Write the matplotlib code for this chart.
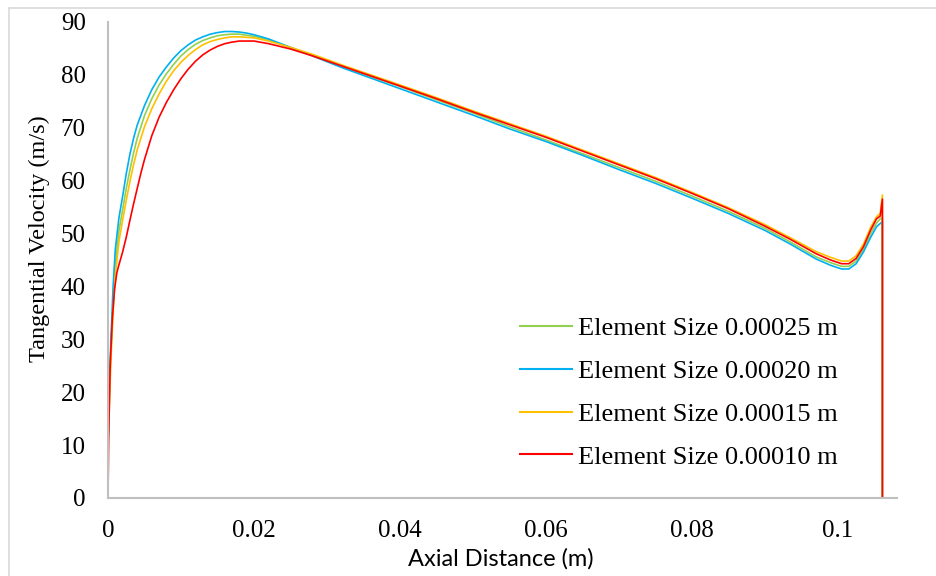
import matplotlib
matplotlib.use("Agg")
import matplotlib.pyplot as plt
from matplotlib.lines import Line2D

# Axial distance (m) and tangential velocity (m/s) for each mesh size
x_025 = [0, 0.0002, 0.0004, 0.0007, 0.001, 0.0015, 0.002, 0.0025, 0.003, 0.0035, 0.004,
         0.005, 0.006, 0.007, 0.008, 0.009, 0.010, 0.011, 0.012, 0.013, 0.014, 0.015,
         0.016, 0.017, 0.018, 0.019, 0.020, 0.022, 0.025, 0.028, 0.032,
         0.036, 0.040, 0.045, 0.050, 0.055, 0.060, 0.065, 0.070, 0.075, 0.080, 0.085,
         0.090, 0.0935, 0.097, 0.099, 0.1005, 0.1015, 0.1025, 0.1035, 0.1045, 0.1053,
         0.1058, 0.1061, 0.1061]
v_025 = [11, 20, 28, 37, 44, 50.5, 54.5, 58.5, 62, 65.2, 68,
         72.3, 75.5, 78.1, 80.2, 82.0, 83.6, 84.8, 85.8, 86.5, 87.0, 87.4,
         87.6, 87.7, 87.7, 87.5, 87.3, 86.6, 85.2, 83.7, 81.6,
         79.7, 77.8, 75.3, 72.8, 70.2, 67.7, 65.1, 62.5, 59.9, 57.1, 54.2,
         51.0, 48.4, 45.6, 44.5, 43.8, 43.8, 44.8, 47.0, 50.0, 52.0,
         52.8, 53.0, 0]

x_020 = x_025
v_020 = [9, 22, 30, 40, 47, 53, 57, 61.3, 65, 68, 70.5,
         74.2, 77.2, 79.6, 81.5, 83.2, 84.6, 85.7, 86.6, 87.2, 87.7, 88.0,
         88.2, 88.2, 88.1, 87.9, 87.6, 86.8, 85.2, 83.6, 81.4,
         79.4, 77.4, 74.9, 72.4, 69.8, 67.4, 64.8, 62.1, 59.5, 56.7, 53.8,
         50.6, 48.0, 45.2, 44.0, 43.3, 43.3, 44.3, 46.5, 49.3, 51.3,
         51.9, 52.2, 0]

x_015 = x_025
v_015 = [10, 18, 26, 35, 42, 48.5, 52.5, 56.3, 59.8, 63, 65.8,
         70.2, 73.6, 76.4, 78.8, 80.8, 82.4, 83.7, 84.8, 85.7, 86.3, 86.7,
         87.0, 87.2, 87.2, 87.1, 87.0, 86.4, 85.2, 83.9, 81.9,
         80.0, 78.1, 75.7, 73.2, 70.8, 68.4, 65.8, 63.2, 60.6, 57.8, 54.9,
         51.7, 49.2, 46.6, 45.5, 44.8, 44.8, 45.8, 48.0, 51.2, 53.2,
         53.8, 57.3, 0]

x_010 = [0, 0.0001, 0.0003, 0.0006, 0.0009, 0.0012, 0.0014, 0.002, 0.0025, 0.003, 0.0035,
         0.004, 0.0045, 0.005, 0.006, 0.007, 0.008, 0.009, 0.010, 0.011, 0.012, 0.013,
         0.014, 0.015, 0.016, 0.017, 0.018, 0.019, 0.020, 0.022, 0.025,
         0.028, 0.032, 0.036, 0.040, 0.045, 0.050, 0.055, 0.060, 0.065, 0.070, 0.075,
         0.080, 0.085, 0.090, 0.0935, 0.097, 0.099, 0.1005, 0.1015, 0.1025, 0.1035,
         0.1045, 0.1053, 0.1058, 0.1061, 0.1061]
v_010 = [0, 12, 25, 34, 39.5, 42.5, 43.6, 46.5, 49.3, 52.5, 55.6,
         58.5, 61.4, 64, 68.5, 72, 74.8, 77.2, 79.3, 81.1, 82.6, 83.8,
         84.7, 85.4, 85.9, 86.2, 86.4, 86.4, 86.4, 85.9, 84.9,
         83.6, 81.7, 79.8, 77.9, 75.5, 73.0, 70.6, 68.2, 65.6, 63.0, 60.4,
         57.6, 54.7, 51.4, 48.9, 46.2, 45.0, 44.3, 44.3, 45.3, 47.5,
         50.7, 52.8, 53.3, 56.5, 0]

series = [
    ("Element Size 0.00025 m", x_025, v_025, "#92d050"),
    ("Element Size 0.00020 m", x_020, v_020, "#00b0f0"),
    ("Element Size 0.00015 m", x_015, v_015, "#ffc000"),
    ("Element Size 0.00010 m", x_010, v_010, "#ff0000"),
]

x_ticks = [0, 0.02, 0.04, 0.06, 0.08, 0.1]
x_tick_labels = ["0", "0.02", "0.04", "0.06", "0.08", "0.1"]
y_ticks = list(range(0, 91, 10))

serif = ["Liberation Serif", "DejaVu Serif"]
W, H = 936, 576

fig = plt.figure(figsize=(9.36, 5.76), dpi=100)
ax = fig.add_axes([108 / W, 1 - 498 / H, (897 - 108) / W, (498 - 22) / H])

for label, xs, vs, color in series:
    ax.plot(xs, vs, color=color, lw=1.2, label=label, solid_joinstyle="round")

ax.set_xlim(0, 0.1081)
ax.set_ylim(0, 90)
ax.set_xticks(x_ticks)
ax.set_xticklabels(x_tick_labels)
ax.set_yticks(y_ticks)

for side in ["top", "right"]:
    ax.spines[side].set_visible(False)
for side in ["left", "bottom"]:
    ax.spines[side].set_color("#bfbfbf")
    ax.spines[side].set_linewidth(1.5)

ax.tick_params(axis="both", length=0, pad=16, labelsize=18)
for t in ax.get_xticklabels() + ax.get_yticklabels():
    t.set_family(serif)

ax.set_ylabel("Tangential Velocity (m/s)", family=serif, fontsize=17.5)
ax.yaxis.set_label_coords(-0.074, 0.545)
ax.set_xlabel("Axial Distance (m)", family=["Lato", "DejaVu Sans"], fontsize=17)
ax.xaxis.set_label_coords(0.498, -0.105)

leg = ax.legend(loc="upper left", bbox_to_anchor=(520 / W, 1 - 317 / H),
                bbox_transform=fig.transFigure, frameon=False,
                prop={"family": serif, "size": 19}, handlelength=1.97,
                handletextpad=0.23, labelspacing=0.73, borderpad=0, borderaxespad=0)
for h in leg.get_lines():
    h.set_linewidth(1.5)

# light chart-area border, as in the spreadsheet export
fig.add_artist(Line2D([9 / W, 9 / W], [0, 1 - 8 / H], transform=fig.transFigure,
                      color="#d9d9d9", lw=1.2))
fig.add_artist(Line2D([9 / W, 1], [1 - 8 / H, 1 - 8 / H], transform=fig.transFigure,
                      color="#d9d9d9", lw=1.2))

fig.savefig("out.png", dpi=100)
